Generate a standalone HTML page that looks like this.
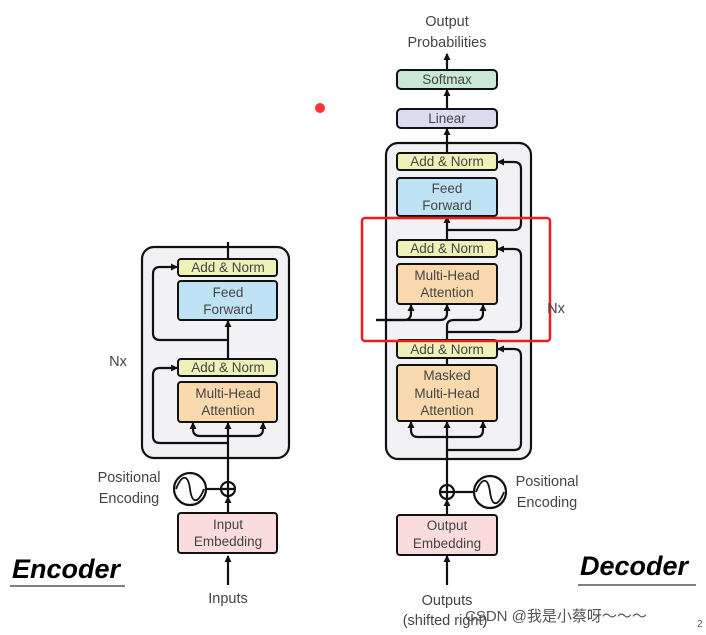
<!DOCTYPE html><html><head><style>body{margin:0;background:#fff}svg{display:block}text{font-family:"Liberation Sans","Noto Sans CJK SC",sans-serif}</style></head><body>
<svg width="706" height="635" viewBox="0 0 706 635">
<defs><marker id="a" markerUnits="userSpaceOnUse" markerWidth="8" markerHeight="8" refX="6" refY="4" orient="auto"><path d="M0,0.5L7,4L0,7.5z" fill="#111"/></marker></defs>
<g stroke="#111" stroke-width="2.2" fill="none">
<!-- encoder -->
<rect x="142" y="247" width="147" height="211" rx="12" fill="#f2f2f4"/>
<line x1="228" y1="585" x2="228" y2="556" marker-end="url(#a)"/>
<line x1="228" y1="513" x2="228" y2="497" marker-end="url(#a)"/>
<line x1="228" y1="482" x2="228" y2="423" marker-end="url(#a)"/>
<path d="M228,436 H200 Q193,436 193,429 V423" marker-end="url(#a)"/>
<path d="M228,436 H256 Q263,436 263,429 V423" marker-end="url(#a)"/>
<path d="M228,443 H160 Q153,443 153,436 V375 Q153,368 160,368 H177" marker-end="url(#a)"/>
<line x1="228" y1="359" x2="228" y2="321" marker-end="url(#a)"/>
<path d="M228,340 H160 Q153,340 153,333 V274 Q153,267 160,267 H177" marker-end="url(#a)"/>
<line x1="228" y1="259" x2="228" y2="242"/>
<circle cx="228" cy="489" r="7"/><path d="M221,489h14M228,482v14"/>
<circle cx="190" cy="489" r="16"/><path d="M206,489H221"/>
<path d="M176,489 C182,474 188,474 190,489 C192,504 198,504 204,489" stroke-width="1.8"/>
<!-- decoder -->
<rect x="386" y="143" width="145" height="316" rx="12" fill="#f2f2f4"/>
<line x1="447" y1="585" x2="447" y2="556" marker-end="url(#a)"/>
<line x1="447" y1="515" x2="447" y2="500" marker-end="url(#a)"/>
<line x1="447" y1="485" x2="447" y2="422" marker-end="url(#a)"/>
<path d="M447,437 H418 Q411,437 411,430 V422" marker-end="url(#a)"/>
<path d="M447,437 H476 Q483,437 483,430 V422" marker-end="url(#a)"/>
<path d="M447,450 H514 Q521,450 521,443 V356 Q521,349 514,349 H498" marker-end="url(#a)"/>
<line x1="447" y1="365" x2="447" y2="358"/>
<path d="M447,340 V326 Q447,320 454,320 H476 Q483,320 483,313 V305" marker-end="url(#a)"/>
<path d="M447,332 H514 Q521,332 521,325 V256 Q521,249 514,249 H498" marker-end="url(#a)"/>
<path d="M376,320 H404 Q411,320 411,313 V305" marker-end="url(#a)"/>
<path d="M376,320 H440 Q447,320 447,313 V305" marker-end="url(#a)"/>
<line x1="447" y1="240" x2="447" y2="217" marker-end="url(#a)"/>
<path d="M447,230 H514 Q521,230 521,223 V169 Q521,162 514,162 H498" marker-end="url(#a)"/>
<line x1="447" y1="153" x2="447" y2="129" marker-end="url(#a)"/>
<line x1="447" y1="109" x2="447" y2="90" marker-end="url(#a)"/>
<line x1="447" y1="70" x2="447" y2="54" marker-end="url(#a)"/>
<circle cx="447" cy="492" r="7"/><path d="M440,492h14M447,485v14"/>
<circle cx="490" cy="492" r="16"/><path d="M454,492H474"/>
<path d="M476,492 C482,477 488,477 490,492 C492,507 498,507 504,492" stroke-width="1.8"/>
</g>
<g stroke="#111" stroke-width="2">
<rect x="178" y="259" width="99" height="17" rx="3" fill="#eef2b8"/>
<rect x="178" y="281" width="99" height="39" rx="3" fill="#bfe3f5"/>
<rect x="178" y="359" width="99" height="17" rx="3" fill="#eef2b8"/>
<rect x="178" y="382" width="99" height="40" rx="3" fill="#fbd9ae"/>
<rect x="178" y="513" width="99" height="40" rx="3" fill="#fadcdc"/>
<rect x="397" y="70" width="100" height="19" rx="4" fill="#c9e8d6"/>
<rect x="397" y="109" width="100" height="19" rx="4" fill="#dcdcf0"/>
<rect x="397" y="153" width="100" height="17" rx="3" fill="#eef2b8"/>
<rect x="397" y="178" width="100" height="38" rx="3" fill="#bfe3f5"/>
<rect x="397" y="240" width="100" height="17" rx="3" fill="#eef2b8"/>
<rect x="397" y="264" width="100" height="40" rx="3" fill="#fbd9ae"/>
<rect x="397" y="340" width="100" height="18" rx="3" fill="#eef2b8"/>
<rect x="397" y="365" width="100" height="56" rx="3" fill="#fbd9ae"/>
<rect x="397" y="515" width="100" height="40" rx="3" fill="#fadcdc"/>
</g>
<rect x="362" y="218" width="188" height="123" rx="3" fill="none" stroke="#f01c1c" stroke-width="2.5"/>
<circle cx="320" cy="108" r="5" fill="#f33"/>
<g font-size="13.5" fill="#444" text-anchor="middle">
<text x="228" y="272">Add &amp; Norm</text><text x="228" y="297">Feed</text><text x="228" y="314">Forward</text>
<text x="228" y="372">Add &amp; Norm</text><text x="228" y="398">Multi-Head</text><text x="228" y="415">Attention</text>
<text x="228" y="529">Input</text><text x="228" y="546">Embedding</text>
<text x="228" y="603" font-size="14.5">Inputs</text>
<text x="129" y="482" font-size="14.5">Positional</text><text x="129" y="503" font-size="14.5">Encoding</text>
<text x="118" y="366" font-size="14.5">Nx</text>
<text x="447" y="26" font-size="14.5">Output</text><text x="447" y="47" font-size="14.5">Probabilities</text>
<text x="447" y="84">Softmax</text><text x="447" y="123">Linear</text>
<text x="447" y="166">Add &amp; Norm</text><text x="447" y="193">Feed</text><text x="447" y="210">Forward</text>
<text x="447" y="253">Add &amp; Norm</text><text x="447" y="280">Multi-Head</text><text x="447" y="297">Attention</text>
<text x="447" y="354">Add &amp; Norm</text><text x="447" y="380">Masked</text><text x="447" y="398">Multi-Head</text><text x="447" y="415">Attention</text>
<text x="447" y="530">Output</text><text x="447" y="548">Embedding</text>
<text x="447" y="605" font-size="14.5">Outputs</text><text x="445" y="625" font-size="14.5">(shifted right)</text>
<text x="547" y="486" font-size="14.5">Positional</text><text x="547" y="507" font-size="14.5">Encoding</text>
<text x="556" y="313" font-size="14.5">Nx</text>
</g>
<text x="12" y="578" font-size="27" font-weight="bold" font-style="italic" fill="#000">Encoder</text>
<line x1="10" y1="586" x2="125" y2="586" stroke="#000" stroke-width="1"/>
<text x="580" y="575" font-size="27" font-weight="bold" font-style="italic" fill="#000">Decoder</text>
<line x1="578" y1="585" x2="696" y2="585" stroke="#000" stroke-width="1"/>
<text x="465" y="621" font-size="15" fill="#555">CSDN @我是小蔡呀～～～</text>
<text x="697" y="627" font-size="10" fill="#555">2</text>
</svg></body></html>
